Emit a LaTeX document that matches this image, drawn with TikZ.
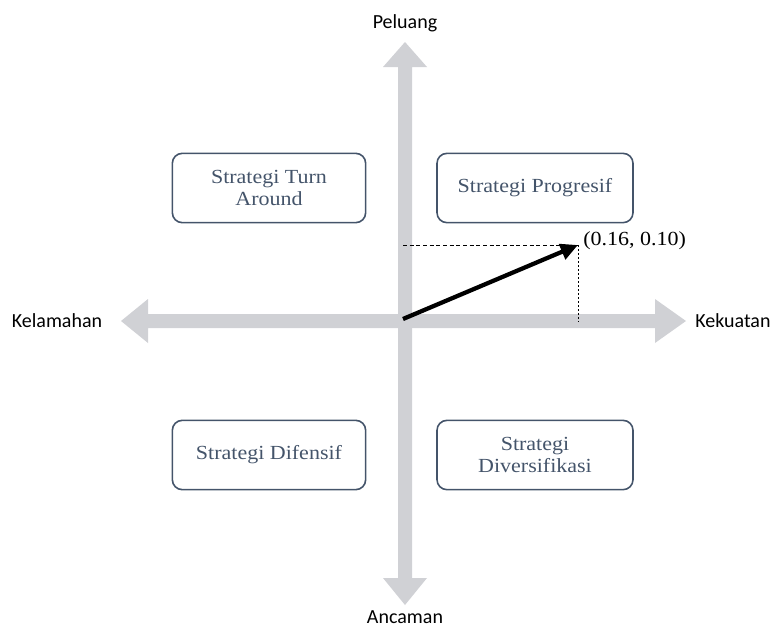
\documentclass[tikz,border=0pt]{standalone}
\usepackage{fontspec}
\setmainfont{Liberation Serif}
\newfontfamily\boxfont[FakeStretch=1.1]{Liberation Serif}
\newfontfamily\axfont{Carlito}
\usetikzlibrary{arrows.meta}
\definecolor{axisgray}{RGB}{208,209,213}
\definecolor{slate}{RGB}{68,84,106}
\begin{document}
\begin{tikzpicture}[x=0.75pt,y=-0.75pt,
  stratbox/.style={draw=slate, line width=1.2pt, rounded corners=7.5pt,
    minimum width=145pt, minimum height=52pt, align=center, text=slate,
    font=\boxfont\fontsize{15}{16.5}\selectfont},
  axlabel/.style={font=\axfont\fontsize{15}{18}\selectfont, inner sep=0pt},
  guide/.style={line width=0.7pt}]
\useasboundingbox (0,0) rectangle (772,632);
% axes
\fill[axisgray] (405,42) -- (427,67) -- (412,67) -- (412,578) -- (427,578) -- (405,605)
  -- (383,578) -- (398,578) -- (398,67) -- (383,67) -- cycle;
\fill[axisgray] (121,321) -- (148,299) -- (148,314) -- (655,314) -- (655,299) -- (686,321)
  -- (655,343) -- (655,328) -- (148,328) -- (148,343) -- cycle;
% axis labels
\node[axlabel] (peluang) at (405,23) {Peluang};
\node[axlabel] (kelemahan) at (57,321) {Kelamahan};
\node[axlabel, anchor=west] (kekuatan) at (695,321) {Kekuatan};
\node[axlabel] (ancaman) at (405,617) {Ancaman};
% boxes
\node[stratbox] (tl) at (269,188) {Strategi Turn\\Around};
\node[stratbox, minimum width=147pt] (tr) at (535,188) {Strategi Progresif};
\node[stratbox] (bl) at (269,455) {Strategi Difensif};
\node[stratbox, minimum width=147pt] (br) at (535,455) {Strategi\\Diversifikasi};
% vector
\coordinate (O) at (403,319);
\coordinate (P) at (578,245);
\coordinate (Py) at (403,245);
\coordinate (Px) at (578,322);
\draw[guide, dash pattern=on 3pt off 2pt] (Py) -- (P);
\draw[guide, dash pattern=on 1.5pt off 1.5pt] (P) -- (Px);
\draw[line width=3.2pt, -{Triangle[length=13pt,width=12pt]}] (O) -- (P);
\node[anchor=west, inner sep=0pt, font=\boxfont\fontsize{15}{16.5}\selectfont] (lbl) at (583,241) {(0.16, 0.10)};
\end{tikzpicture}
\end{document}
